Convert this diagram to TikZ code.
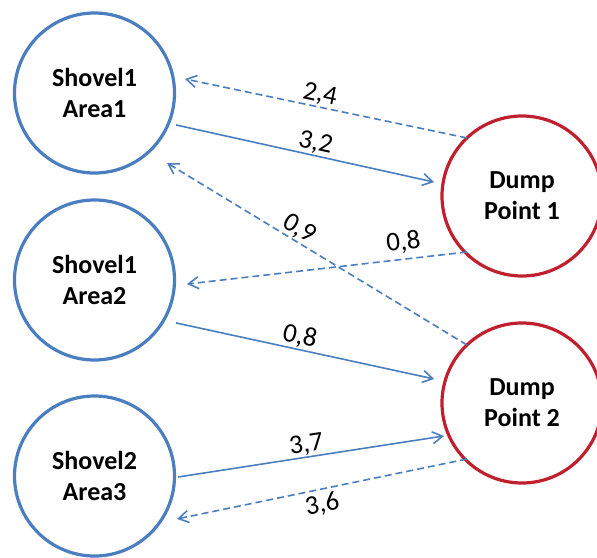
\documentclass[tikz,border=0pt]{standalone}
\usepackage{fontspec}
\setmainfont{Carlito}
\usetikzlibrary{arrows.meta,calc}
\definecolor{lineblue}{RGB}{74,126,190}
\definecolor{dumpred}{RGB}{192,32,45}
\tikzset{
  area/.style={circle, draw=lineblue, line width=3.2pt, minimum size=160pt,
    inner sep=0pt, align=center, font=\fontsize{26}{31}\selectfont\bfseries},
  dump/.style={area, draw=dumpred},
  haul/.style={draw=lineblue, line width=1.6pt,
    -{Straight Barb[length=10pt,width=12pt]}},
  back/.style={haul, dash pattern=on 7pt off 4pt},
  val/.style={font=\fontsize{27}{27}\selectfont, inner sep=1pt, anchor=south},
}
\begin{document}
\begin{tikzpicture}[x=1pt,y=1pt]
\useasboundingbox (0,0) rectangle (597,-557);
\clip (0,0) rectangle (597,-557);

% loading areas and dump points
\node[area] (s1) at (94.5,-93)  {Shovel1\\Area1};
\node[area] (s2) at (94.5,-280) {Shovel1\\Area2};
\node[area] (s3) at (94.5,-476) {Shovel2\\Area3};
\node[dump] (d1) at (522,-196)  {Dump\\Point 1};
\node[dump] (d2) at (522,-403)  {Dump\\Point 2};

% loaded hauls (solid) and empty returns (dashed)
\draw[back] ($(d1)+(133.5:80)$) -- node[val,pos=0.53,rotate=-11.8]{2,4} ($(s1)+(8.8:91.6)$);
\draw[haul] ($(s1)+(-21.4:87.6)$) -- node[val,pos=0.53,rotate=-12.5]{3,2} ($(d1)+(171:89)$);
\draw[back] ($(d2)+(133.5:80)$) -- node[val,pos=0.58,rotate=-31.2]{0,9} ($(s1)+(-44:100.8)$);
\draw[back] ($(d1)+(-134.5:78.5)$) -- node[val,pos=0.22,rotate=6.5,inner sep=5pt]{0,8} ($(s2)+(-2.5:92.6)$);
\draw[haul] ($(s2)+(-27.8:92)$) -- node[val,pos=0.47,rotate=-12.2]{0,8} ($(d2)+(164.7:91)$);
\draw[haul] ($(s3)+(-0.7:83.5)$) -- node[val,pos=0.49,rotate=8.8]{3,7} ($(d2)+(-157.1:84.7)$);
\draw[back] ($(d2)+(-134.5:78.5)$) -- node[val,anchor=north,inner sep=4pt,pos=0.51,rotate=11.7]{3,6} ($(s3)+(-27.5:93)$);
\end{tikzpicture}
\end{document}
